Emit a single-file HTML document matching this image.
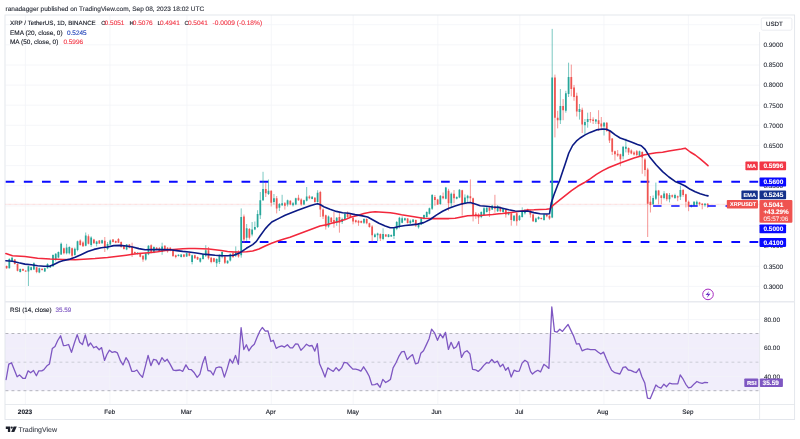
<!DOCTYPE html>
<html><head><meta charset="utf-8"><title>XRP / TetherUS chart</title>
<style>html,body{margin:0;padding:0;background:#fff;}body{width:800px;height:439px;overflow:hidden;font-family:"Liberation Sans",sans-serif;}svg{display:block;will-change:transform}text{font-family:"Liberation Sans",sans-serif;text-rendering:geometricPrecision;}</style></head><body>
<svg width="800" height="439" viewBox="0 0 800 439">
<rect x="0" y="0" width="800" height="439" fill="#ffffff"/>
<rect x="5" y="333.5" width="754.5" height="57.2" fill="#f1eefb"/>
<path d="M5.5 24.7H759.5 M5.5 44.8H759.5 M5.5 65.0H759.5 M5.5 85.1H759.5 M5.5 105.2H759.5 M5.5 125.3H759.5 M5.5 145.5H759.5 M5.5 165.6H759.5 M5.5 185.7H759.5 M5.5 205.9H759.5 M5.5 226.0H759.5 M5.5 246.1H759.5 M5.5 266.3H759.5 M5.5 286.4H759.5 M5.5 319.6H759.5 M5.5 348.1H759.5 M5.5 376.6H759.5 M25.4 15V404.5 M109.9 15V404.5 M186.9 15V404.5 M271.3 15V404.5 M353.2 15V404.5 M437.8 15V404.5 M519.8 15V404.5 M603.9 15V404.5 M688.4 15V404.5" stroke="#f2f4f8" stroke-width="0.8" fill="none"/>
<rect x="5" y="15" width="789.6" height="404.5" fill="none" stroke="#e1e4ea" stroke-width="0.9"/>
<path d="M5 301.7H794.6" stroke="#e8eaef" stroke-width="1.5" fill="none"/>
<path d="M5 404.5H794.6 M759.6 32V419.5" stroke="#e1e4ea" stroke-width="0.8" fill="none"/>
<path d="M5.5 204.3H759.5" stroke="#f6a9a8" stroke-width="0.6" fill="none" stroke-dasharray="0.7 0.5"/>
<path d="M5.5 333.5H759.5 M5.5 390.7H759.5" stroke="#8f929b" stroke-width="0.65" stroke-dasharray="2.9 3.1" fill="none"/>
<path d="M5.5 362.2H759.5" stroke="#b9bbc4" stroke-width="0.65" stroke-dasharray="2.9 3.1" fill="none"/>
<path d="M5.7 181.8H759.5" stroke="#0a0aff" stroke-width="2" stroke-dasharray="8.7 9.44" fill="none"/>
<path d="M241.6 242.1H759.5" stroke="#0a0aff" stroke-width="2" stroke-dasharray="8.7 9.44" stroke-dashoffset="0" fill="none"/>
<path d="M9.33 258.2V268.5M12.06 257.0V262.0M20.24 268.5V272.5M28.43 265.7V286.0M31.16 266.8V270.5M33.88 262.3V270.0M39.34 267.6V273.2M44.80 267.7V271.9M47.52 263.2V268.7M50.25 265.2V268.0M52.98 254.4V267.0M55.71 253.2V261.3M58.44 251.5V258.2M61.16 242.5V255.0M66.62 243.8V254.4M69.35 246.3V254.4M74.80 247.5V255.7M77.53 240.6V251.3M85.72 232.5V246.3M91.17 236.3V246.9M96.63 240.8V246.4M102.08 239.7V243.8M107.54 242.0V250.2M110.27 239.5V245.2M126.64 244.0V250.2M137.55 252.2V254.5M145.73 252.7V260.6M148.46 245.2V255.2M153.92 246.4V253.3M162.10 242.7V254.8M178.47 254.3V256.5M181.20 254.1V257.5M186.65 252.7V257.0M192.11 254.6V264.4M200.29 257.7V262.7M203.02 253.3V259.6M205.75 245.2V257.0M216.66 258.3V267.0M219.39 254.3V264.0M222.12 251.4V258.3M227.57 260.3V263.8M230.30 253.3V261.5M235.76 246.4V257.0M241.21 208.4V257.7M246.67 224.0V240.8M252.12 222.0V236.4M254.85 221.5V230.2M257.58 210.2V228.0M260.31 192.0V219.0M263.04 171.8V201.0M268.49 179.5V195.0M273.95 194.0V204.6M279.40 203.0V211.0M282.13 194.8V206.0M287.59 199.6V206.5M293.04 202.0V206.5M295.77 197.7V205.2M303.96 199.7V205.1M306.68 187.0V201.5M312.14 196.0V199.3M317.60 190.2V202.7M328.51 215.5V227.7M336.69 217.0V225.8M342.15 217.7V224.0M344.88 212.7V220.2M363.97 218.3V224.0M374.88 233.4V237.7M377.61 232.7V241.0M383.07 228.3V240.2M388.52 234.0V237.4M391.25 234.4V237.0M393.98 227.7V239.0M396.71 221.0V230.2M399.44 216.8V228.3M402.16 216.4V223.3M404.89 217.7V220.8M410.35 219.5V224.5M413.08 219.2V222.7M418.53 223.2V228.6M421.26 217.6V225.1M423.99 214.5V219.5M426.72 211.3V217.6M429.44 207.6V214.5M432.17 194.0V210.0M440.36 195.0V204.8M445.81 186.9V199.4M451.27 192.5V207.0M456.72 196.3V199.4M459.45 189.0V198.2M464.91 194.4V203.8M467.64 194.8V202.0M481.28 211.3V218.2M484.00 207.0V215.7M486.73 207.0V212.6M492.19 204.8V210.0M497.64 205.0V212.0M503.10 208.0V212.6M508.56 211.6V215.3M514.01 215.0V221.4M519.47 215.0V221.0M522.20 207.3V217.6M524.92 209.0V214.5M535.84 217.6V222.6M538.56 216.3V219.8M544.02 213.8V220.7M552.20 28.9V218.2M560.39 89.0V124.0M565.84 90.8V112.7M568.57 62.7V97.0M579.48 104.0V119.6M584.94 119.0V134.3M587.67 112.7V127.7M595.85 119.0V124.0M604.04 122.0V135.5M623.13 146.2V159.3M625.86 138.6V152.4M639.50 150.6V156.2M653.14 195.5V205.0M655.87 182.6V200.0M664.05 191.1V199.3M669.51 193.0V202.4M674.96 193.7V199.0M680.42 185.7V200.0M691.33 204.6V207.6M694.06 201.2V206.2M696.79 200.5V206.2M704.97 203.0V206.8" stroke="#26a69a" stroke-width="0.9" stroke-opacity="0.68" fill="none"/>
<path d="M6.60 265.5V268.8M14.79 259.0V264.5M17.52 263.5V271.4M22.97 268.5V271.0M25.70 270.0V272.0M36.61 266.8V273.2M42.07 268.3V270.6M63.89 247.5V254.4M72.08 247.5V259.5M80.26 239.4V245.7M82.99 241.3V246.9M88.44 234.4V244.4M93.90 238.8V243.8M99.36 240.0V244.0M104.81 237.0V252.0M113.00 239.0V242.5M115.72 240.5V243.2M118.45 238.0V243.0M121.18 241.4V247.7M123.91 245.2V249.6M129.36 244.0V248.3M132.09 242.7V257.0M134.82 251.5V253.8M140.28 252.8V257.3M143.00 255.2V261.8M151.19 244.3V253.3M156.64 247.0V250.2M159.37 247.0V252.0M164.83 245.2V250.8M167.56 247.0V252.7M170.28 247.2V251.3M173.01 250.2V257.0M175.74 254.6V258.3M183.92 254.1V257.3M189.38 252.8V256.3M194.84 254.7V258.8M197.56 256.5V260.0M208.48 247.0V259.6M211.20 257.0V263.3M213.93 257.8V262.3M224.84 255.8V264.0M233.03 251.0V258.0M238.48 250.2V257.7M243.94 214.5V242.7M249.40 228.0V239.5M265.76 182.7V197.0M271.22 190.3V206.5M276.68 196.0V213.4M284.86 202.0V209.6M290.32 200.2V205.2M298.50 194.8V200.8M301.23 198.3V205.8M309.41 195.2V199.3M314.87 197.0V202.7M320.32 190.8V217.0M323.05 208.4V219.0M325.78 214.6V229.6M331.24 217.0V223.3M333.96 212.0V227.7M339.42 212.7V232.7M347.60 211.4V219.0M350.33 213.3V217.7M353.06 217.0V224.3M355.79 219.6V223.3M358.52 220.2V225.8M361.24 220.5V223.3M366.70 218.3V224.3M369.43 222.7V227.7M372.16 225.2V241.5M380.34 233.4V241.0M385.80 234.0V237.0M407.62 218.0V223.5M415.80 219.5V227.0M434.90 195.0V205.7M437.63 198.8V205.0M443.08 192.5V199.4M448.54 188.8V210.7M454.00 190.0V203.2M462.18 189.8V215.7M470.36 179.4V203.0M473.09 197.6V221.4M475.82 212.0V218.9M478.55 213.2V224.0M489.46 207.0V217.0M494.92 194.8V212.6M500.37 206.6V212.3M505.83 208.6V217.6M511.28 212.0V225.7M516.74 212.3V225.7M527.65 208.6V212.0M530.38 210.0V217.6M533.11 213.8V222.0M541.29 217.5V219.5M546.75 214.0V217.3M549.48 215.0V219.8M554.93 74.6V137.4M557.66 110.8V128.4M563.12 99.0V120.2M571.30 64.6V96.4M574.03 85.0V100.8M576.76 92.7V116.5M582.21 107.7V133.0M590.40 112.0V122.7M593.12 117.3V124.0M598.58 110.2V131.0M601.31 117.0V130.3M606.76 122.0V131.8M609.49 130.5V143.0M612.22 138.0V155.0M614.95 150.6V160.6M617.68 150.0V156.8M620.40 153.7V166.2M628.59 147.4V155.0M631.32 149.3V154.3M634.04 151.2V155.6M636.77 150.0V156.2M642.23 151.3V173.8M644.96 158.2V176.3M647.68 167.8V237.0M650.41 196.0V212.5M658.60 189.9V204.3M661.32 194.9V204.3M666.78 193.0V201.2M672.24 194.5V197.8M677.69 195.5V201.2M683.15 189.0V196.8M685.88 193.7V207.4M688.60 200.5V211.2M699.52 201.8V205.6M702.24 203.0V209.3M707.70 203.0V208.0" stroke="#ef5350" stroke-width="0.9" stroke-opacity="0.68" fill="none"/>
<path d="M8.46 259.0h1.75V268.2h-1.75zM11.18 257.8h1.75V261.3h-1.75zM19.37 269.0h1.75V272.0h-1.75zM27.55 266.3h1.75V271.4h-1.75zM30.28 267.3h1.75V270.0h-1.75zM33.01 263.2h1.75V269.5h-1.75zM38.47 268.2h1.75V272.6h-1.75zM43.92 268.2h1.75V271.4h-1.75zM46.65 264.0h1.75V268.2h-1.75zM49.38 265.7h1.75V267.6h-1.75zM52.11 255.0h1.75V266.3h-1.75zM54.83 253.8h1.75V260.0h-1.75zM57.56 252.0h1.75V257.6h-1.75zM60.29 243.8h1.75V254.4h-1.75zM65.75 247.5h1.75V253.2h-1.75zM68.47 247.0h1.75V253.2h-1.75zM73.93 248.8h1.75V255.0h-1.75zM76.66 241.3h1.75V250.0h-1.75zM84.84 235.6h1.75V245.7h-1.75zM90.30 237.5h1.75V245.0h-1.75zM95.75 241.4h1.75V243.9h-1.75zM101.21 240.2h1.75V243.3h-1.75zM106.67 244.0h1.75V249.0h-1.75zM109.39 240.5h1.75V244.5h-1.75zM125.76 244.5h1.75V249.6h-1.75zM136.67 252.7h1.75V254.0h-1.75zM144.86 253.3h1.75V259.6h-1.75zM147.59 245.8h1.75V254.3h-1.75zM153.04 247.0h1.75V252.7h-1.75zM161.22 246.4h1.75V252.0h-1.75zM177.59 254.8h1.75V256.0h-1.75zM180.32 254.6h1.75V257.0h-1.75zM185.78 253.3h1.75V256.5h-1.75zM191.23 255.2h1.75V262.0h-1.75zM199.42 258.3h1.75V261.8h-1.75zM202.15 254.0h1.75V259.0h-1.75zM204.87 250.2h1.75V255.8h-1.75zM215.78 259.0h1.75V263.3h-1.75zM218.51 255.2h1.75V262.0h-1.75zM221.24 252.0h1.75V256.5h-1.75zM226.70 260.8h1.75V263.3h-1.75zM229.43 254.3h1.75V260.6h-1.75zM234.88 251.4h1.75V255.8h-1.75zM240.34 217.0h1.75V255.2h-1.75zM245.79 228.3h1.75V237.7h-1.75zM251.25 229.5h1.75V234.5h-1.75zM253.98 227.0h1.75V229.5h-1.75zM256.71 214.0h1.75V227.0h-1.75zM259.43 200.2h1.75V215.2h-1.75zM262.16 189.0h1.75V200.2h-1.75zM267.62 190.8h1.75V194.0h-1.75zM273.07 198.3h1.75V202.0h-1.75zM278.53 204.0h1.75V207.7h-1.75zM281.26 203.3h1.75V205.2h-1.75zM286.71 200.2h1.75V204.6h-1.75zM292.17 203.3h1.75V205.2h-1.75zM294.90 198.3h1.75V204.6h-1.75zM303.08 200.2h1.75V204.6h-1.75zM305.81 196.4h1.75V200.8h-1.75zM311.26 196.8h1.75V199.0h-1.75zM316.72 192.7h1.75V202.0h-1.75zM327.63 216.4h1.75V226.5h-1.75zM335.82 217.7h1.75V222.7h-1.75zM341.27 219.0h1.75V222.0h-1.75zM344.00 214.0h1.75V219.6h-1.75zM363.10 219.0h1.75V222.7h-1.75zM374.01 234.4h1.75V237.0h-1.75zM376.74 233.4h1.75V235.2h-1.75zM382.19 234.0h1.75V239.0h-1.75zM387.65 234.6h1.75V236.9h-1.75zM390.38 234.9h1.75V236.5h-1.75zM393.11 228.3h1.75V235.9h-1.75zM395.83 222.0h1.75V229.0h-1.75zM398.56 217.7h1.75V226.5h-1.75zM401.29 218.3h1.75V222.7h-1.75zM404.02 218.3h1.75V220.2h-1.75zM409.47 220.7h1.75V223.2h-1.75zM412.20 219.6h1.75V222.0h-1.75zM417.66 224.5h1.75V227.3h-1.75zM420.38 218.2h1.75V224.5h-1.75zM423.11 215.0h1.75V218.9h-1.75zM425.84 212.0h1.75V217.0h-1.75zM428.57 208.2h1.75V213.8h-1.75zM431.30 195.0h1.75V208.8h-1.75zM439.48 195.7h1.75V204.0h-1.75zM444.94 187.5h1.75V198.8h-1.75zM450.39 193.8h1.75V203.2h-1.75zM455.85 197.0h1.75V198.8h-1.75zM458.58 189.8h1.75V197.6h-1.75zM464.03 197.6h1.75V203.2h-1.75zM466.76 195.7h1.75V198.2h-1.75zM480.40 212.0h1.75V217.0h-1.75zM483.13 208.2h1.75V215.0h-1.75zM485.86 207.8h1.75V212.0h-1.75zM491.31 205.7h1.75V209.5h-1.75zM496.77 206.3h1.75V211.3h-1.75zM502.23 208.7h1.75V212.0h-1.75zM507.68 212.3h1.75V214.5h-1.75zM513.14 215.7h1.75V220.7h-1.75zM518.59 215.7h1.75V220.0h-1.75zM521.32 210.7h1.75V217.0h-1.75zM524.05 210.0h1.75V213.2h-1.75zM534.96 218.6h1.75V222.0h-1.75zM537.69 217.0h1.75V219.0h-1.75zM543.15 214.5h1.75V220.0h-1.75zM551.33 77.5h1.75V217.6h-1.75zM559.51 106.0h1.75V120.2h-1.75zM564.97 93.3h1.75V110.8h-1.75zM567.70 77.0h1.75V94.0h-1.75zM578.61 109.0h1.75V112.0h-1.75zM584.07 122.0h1.75V125.2h-1.75zM586.79 119.0h1.75V122.0h-1.75zM594.98 119.6h1.75V121.5h-1.75zM603.16 122.7h1.75V126.5h-1.75zM622.26 146.8h1.75V156.2h-1.75zM624.99 146.8h1.75V148.7h-1.75zM638.63 151.2h1.75V155.7h-1.75zM652.27 198.0h1.75V204.3h-1.75zM654.99 190.5h1.75V198.7h-1.75zM663.18 193.6h1.75V198.0h-1.75zM668.63 195.0h1.75V199.3h-1.75zM674.09 195.0h1.75V198.0h-1.75zM679.55 190.0h1.75V196.8h-1.75zM690.46 205.3h1.75V206.8h-1.75zM693.19 201.8h1.75V205.5h-1.75zM695.91 201.8h1.75V204.5h-1.75zM704.10 203.7h1.75V205.3h-1.75z" fill="#26a69a"/>
<path d="M5.73 266.1h1.75V268.2h-1.75zM13.91 259.4h1.75V264.0h-1.75zM16.64 264.0h1.75V270.7h-1.75zM22.10 269.0h1.75V270.7h-1.75zM24.82 270.7h1.75V271.6h-1.75zM35.74 267.3h1.75V272.0h-1.75zM41.19 268.8h1.75V270.1h-1.75zM63.02 248.2h1.75V253.2h-1.75zM71.20 248.2h1.75V255.7h-1.75zM79.39 240.6h1.75V245.0h-1.75zM82.11 242.5h1.75V246.3h-1.75zM87.57 236.3h1.75V243.8h-1.75zM93.03 239.4h1.75V243.2h-1.75zM98.48 240.5h1.75V243.6h-1.75zM103.94 240.8h1.75V247.0h-1.75zM112.12 239.5h1.75V242.0h-1.75zM114.85 241.0h1.75V242.7h-1.75zM117.58 239.0h1.75V242.7h-1.75zM120.31 242.0h1.75V247.0h-1.75zM123.03 245.8h1.75V249.0h-1.75zM128.49 244.5h1.75V247.7h-1.75zM131.22 246.4h1.75V254.6h-1.75zM133.94 252.0h1.75V253.3h-1.75zM139.40 253.3h1.75V256.8h-1.75zM142.13 255.8h1.75V259.6h-1.75zM150.31 245.2h1.75V252.7h-1.75zM155.77 247.7h1.75V249.6h-1.75zM158.50 248.3h1.75V251.4h-1.75zM163.95 245.8h1.75V250.2h-1.75zM166.68 247.7h1.75V251.4h-1.75zM169.41 247.7h1.75V250.8h-1.75zM172.14 250.8h1.75V256.0h-1.75zM174.87 255.2h1.75V257.0h-1.75zM183.05 254.6h1.75V256.8h-1.75zM188.50 253.3h1.75V255.8h-1.75zM193.96 255.2h1.75V258.3h-1.75zM196.69 257.0h1.75V259.6h-1.75zM207.60 250.2h1.75V258.3h-1.75zM210.33 257.7h1.75V262.0h-1.75zM213.06 258.3h1.75V261.8h-1.75zM223.97 256.5h1.75V262.7h-1.75zM232.15 253.3h1.75V257.0h-1.75zM237.61 252.0h1.75V256.5h-1.75zM243.06 216.5h1.75V239.5h-1.75zM248.52 229.0h1.75V237.7h-1.75zM264.89 189.0h1.75V193.3h-1.75zM270.35 190.8h1.75V202.7h-1.75zM275.80 198.3h1.75V208.4h-1.75zM283.99 203.3h1.75V205.8h-1.75zM289.44 200.8h1.75V204.6h-1.75zM297.62 197.7h1.75V200.2h-1.75zM300.35 199.6h1.75V204.6h-1.75zM308.54 196.4h1.75V198.3h-1.75zM313.99 197.7h1.75V202.0h-1.75zM319.45 192.0h1.75V209.6h-1.75zM322.18 209.5h1.75V216.5h-1.75zM324.91 215.2h1.75V226.5h-1.75zM330.36 217.7h1.75V222.0h-1.75zM333.09 220.0h1.75V223.5h-1.75zM338.55 217.0h1.75V222.7h-1.75zM346.73 214.0h1.75V217.0h-1.75zM349.46 214.3h1.75V217.0h-1.75zM352.19 217.7h1.75V221.5h-1.75zM354.91 220.2h1.75V222.0h-1.75zM357.64 220.8h1.75V222.7h-1.75zM360.37 221.0h1.75V222.7h-1.75zM365.82 219.0h1.75V223.3h-1.75zM368.55 223.3h1.75V227.0h-1.75zM371.28 226.5h1.75V235.2h-1.75zM379.47 234.0h1.75V238.4h-1.75zM384.92 234.6h1.75V236.5h-1.75zM406.75 218.4h1.75V223.0h-1.75zM414.93 220.1h1.75V225.4h-1.75zM434.03 197.0h1.75V200.0h-1.75zM436.75 199.4h1.75V204.4h-1.75zM442.21 196.3h1.75V198.2h-1.75zM447.67 190.7h1.75V203.2h-1.75zM453.12 193.8h1.75V198.2h-1.75zM461.31 190.3h1.75V205.0h-1.75zM469.49 196.3h1.75V198.2h-1.75zM472.22 198.2h1.75V215.0h-1.75zM474.95 213.8h1.75V215.7h-1.75zM477.67 214.5h1.75V217.6h-1.75zM488.59 207.8h1.75V210.7h-1.75zM494.04 206.3h1.75V208.8h-1.75zM499.50 207.4h1.75V211.3h-1.75zM504.95 209.4h1.75V214.5h-1.75zM510.41 213.2h1.75V220.0h-1.75zM515.87 213.2h1.75V221.3h-1.75zM526.78 209.0h1.75V211.3h-1.75zM529.51 210.7h1.75V214.5h-1.75zM532.23 214.5h1.75V221.3h-1.75zM540.42 218.0h1.75V219.0h-1.75zM545.87 214.8h1.75V216.3h-1.75zM548.60 215.7h1.75V218.6h-1.75zM554.06 77.5h1.75V117.7h-1.75zM556.79 117.7h1.75V120.2h-1.75zM562.24 106.0h1.75V110.2h-1.75zM570.43 77.0h1.75V89.0h-1.75zM573.15 87.6h1.75V97.0h-1.75zM575.88 95.8h1.75V111.5h-1.75zM581.34 109.8h1.75V124.6h-1.75zM589.52 119.0h1.75V120.2h-1.75zM592.25 119.6h1.75V121.0h-1.75zM597.71 120.2h1.75V124.0h-1.75zM600.43 123.4h1.75V126.5h-1.75zM605.89 122.7h1.75V131.0h-1.75zM608.62 131.0h1.75V140.5h-1.75zM611.35 138.6h1.75V151.8h-1.75zM614.07 151.2h1.75V154.3h-1.75zM616.80 153.7h1.75V155.6h-1.75zM619.53 154.3h1.75V159.3h-1.75zM627.71 148.0h1.75V152.4h-1.75zM630.44 150.5h1.75V153.4h-1.75zM633.17 152.4h1.75V154.6h-1.75zM635.90 151.2h1.75V155.0h-1.75zM641.35 152.0h1.75V157.5h-1.75zM644.08 159.4h1.75V170.0h-1.75zM646.81 169.5h1.75V203.7h-1.75zM649.54 201.8h1.75V205.0h-1.75zM657.72 190.5h1.75V195.5h-1.75zM660.45 195.5h1.75V198.0h-1.75zM665.91 193.6h1.75V199.3h-1.75zM671.36 195.3h1.75V196.8h-1.75zM676.82 196.2h1.75V197.4h-1.75zM682.27 190.0h1.75V195.0h-1.75zM685.00 194.3h1.75V201.8h-1.75zM687.73 201.8h1.75V206.8h-1.75zM698.64 202.4h1.75V204.0h-1.75zM701.37 203.7h1.75V205.0h-1.75zM706.83 203.7h1.75V205.0h-1.75z" fill="#ef5350"/>
<path d="M653.1 206H759.5" stroke="#0a0aff" stroke-width="1.6" stroke-dasharray="8.4 9.7" fill="none"/>
<path d="M5.9 253.6 L12.5 255.7 L25.0 256.6 L37.6 258.2 L50.1 259.1 L62.7 259.4 L75.2 259.7 L87.7 259.1 L95.0 258.6 L101.3 258.0 L107.5 257.5 L113.8 256.8 L120.0 256.0 L126.3 255.2 L132.6 254.3 L138.9 253.6 L145.1 253.0 L151.4 252.4 L157.7 251.7 L163.9 250.8 L170.2 249.8 L176.5 249.2 L182.7 248.7 L189.0 248.5 L195.0 248.5 L202.5 248.7 L208.8 249.0 L215.1 249.8 L221.3 250.6 L227.6 251.4 L233.9 252.0 L240.1 252.0 L246.4 251.8 L252.7 251.0 L258.9 249.0 L265.2 246.0 L271.5 243.3 L277.7 241.0 L284.0 239.0 L290.0 237.3 L300.0 233.5 L310.0 229.7 L320.0 226.0 L326.3 224.8 L332.5 223.0 L338.8 221.5 L345.1 219.6 L351.3 217.0 L357.6 215.6 L363.9 213.6 L370.1 212.3 L375.1 211.8 L382.7 212.3 L390.2 212.7 L395.2 213.6 L401.5 214.8 L407.7 215.8 L414.0 216.8 L420.0 217.7 L423.8 218.2 L430.1 218.6 L436.3 218.6 L442.6 218.6 L448.9 218.6 L455.1 218.2 L461.4 217.0 L467.7 215.7 L473.9 215.4 L480.2 215.4 L486.5 215.0 L492.7 214.5 L499.0 213.8 L502.5 213.6 L508.8 212.8 L515.1 212.0 L521.3 211.0 L527.6 210.0 L533.9 209.8 L540.1 209.4 L546.4 209.2 L550.2 208.8 L552.7 205.7 L558.9 200.7 L565.2 195.7 L571.5 190.6 L577.7 186.3 L584.0 182.8 L590.1 178.8 L596.4 174.4 L602.7 170.6 L608.9 167.5 L615.2 165.0 L621.5 162.5 L627.7 160.3 L634.0 158.0 L640.0 156.2 L643.8 155.0 L650.1 153.8 L656.3 152.8 L662.6 152.2 L668.9 151.0 L675.1 150.0 L681.4 149.0 L685.2 148.2 L690.2 152.0 L695.2 155.0 L700.2 158.8 L705.2 163.2 L708.0 165.7" stroke="#f2283c" stroke-width="1.55" fill="none" stroke-linejoin="round" stroke-linecap="round"/>
<path d="M5.9 260.7 L12.5 261.3 L18.8 262.8 L25.0 264.1 L31.3 264.8 L37.6 265.7 L43.9 266.3 L50.1 266.1 L53.9 264.5 L58.9 262.0 L62.7 260.7 L68.9 259.4 L75.2 257.3 L81.5 254.4 L87.7 251.6 L94.0 249.4 L101.3 247.7 L107.5 247.0 L113.8 245.6 L120.0 245.4 L126.3 246.0 L132.6 247.0 L138.9 248.6 L145.1 249.8 L151.4 249.6 L157.7 249.6 L163.9 249.6 L170.2 249.8 L176.5 250.6 L182.7 251.4 L189.0 252.0 L196.3 253.0 L202.5 254.0 L208.8 254.6 L215.1 255.2 L221.3 255.6 L227.6 255.8 L233.9 255.2 L240.1 252.7 L246.4 248.3 L252.7 244.6 L256.4 241.4 L260.2 235.8 L265.2 228.9 L268.9 224.8 L271.8 222.0 L278.9 218.4 L285.1 215.2 L291.4 212.7 L297.7 210.2 L303.9 208.0 L310.2 205.8 L315.2 204.3 L317.7 203.7 L320.5 204.8 L323.8 206.8 L330.0 209.3 L336.3 211.4 L342.6 212.7 L348.8 213.3 L355.1 214.6 L361.4 215.6 L367.6 217.0 L372.6 219.8 L378.9 223.3 L385.2 226.0 L390.2 227.7 L393.9 227.7 L398.9 226.5 L405.2 225.5 L411.4 224.9 L417.6 224.1 L423.8 222.6 L430.1 219.5 L436.3 215.1 L442.6 211.3 L448.9 208.2 L455.1 206.0 L461.4 204.0 L467.7 202.8 L470.2 202.6 L475.2 204.0 L480.2 205.7 L486.5 206.3 L492.7 207.0 L499.0 207.4 L502.5 208.2 L508.8 209.8 L515.1 211.0 L521.3 211.3 L527.6 211.0 L533.9 212.6 L540.1 213.8 L546.4 214.0 L549.5 213.8 L551.4 202.5 L553.9 195.0 L557.7 185.0 L559.5 181.0 L561.3 175.6 L565.1 164.3 L568.8 153.0 L572.6 145.5 L576.3 141.2 L580.1 138.0 L585.1 134.9 L590.1 132.4 L596.4 129.9 L602.7 129.0 L606.4 129.3 L610.2 131.0 L615.2 134.9 L620.2 138.0 L625.2 139.8 L631.3 141.9 L637.5 144.4 L641.3 145.7 L645.1 149.4 L650.1 157.6 L656.3 165.0 L662.6 171.6 L668.9 177.0 L675.1 181.4 L680.0 183.5 L685.2 186.0 L690.2 189.3 L695.2 191.8 L700.2 193.7 L705.2 195.2 L708.0 195.9" stroke="#0b1a85" stroke-width="1.6" fill="none" stroke-linejoin="round" stroke-linecap="round"/>
<path d="M6.1 379.5 L8.8 364.1 L11.5 362.8 L14.4 370.0 L17.1 376.8 L19.5 374.9 L22.8 378.3 L25.2 378.4 L28.1 370.8 L30.6 372.8 L33.5 370.5 L36.4 375.7 L38.8 370.8 L41.8 370.8 L43.9 369.7 L46.7 366.1 L49.4 364.1 L52.3 348.6 L55.0 346.5 L57.7 340.5 L60.6 335.8 L63.5 345.7 L65.9 345.3 L68.6 344.5 L71.5 352.4 L74.3 343.3 L77.2 334.6 L79.7 342.2 L82.5 344.5 L85.3 334.9 L88.2 346.0 L90.6 343.0 L93.8 347.8 L96.2 346.5 L99.2 349.7 L101.6 347.6 L104.5 360.4 L106.9 354.5 L109.5 350.2 L112.2 352.4 L114.9 351.6 L117.4 352.9 L120.5 360.9 L123.0 364.9 L126.0 357.7 L128.6 361.7 L131.8 371.3 L134.5 371.3 L136.9 370.0 L139.8 374.4 L142.5 377.3 L145.2 366.8 L148.1 355.3 L150.9 365.7 L153.6 359.3 L156.4 360.1 L158.9 364.6 L161.9 357.7 L164.8 361.4 L167.2 359.3 L170.1 364.1 L173.3 370.1 L176.0 370.5 L180.0 370.0 L182.8 371.3 L185.9 364.9 L188.7 369.3 L191.4 369.7 L194.3 372.8 L197.2 377.3 L199.9 374.1 L202.6 363.3 L205.2 356.6 L207.9 370.5 L210.6 371.2 L213.2 375.0 L216.1 367.8 L218.8 367.0 L221.5 367.4 L224.4 377.1 L227.2 368.6 L229.9 359.1 L232.6 363.1 L235.5 355.4 L238.4 364.3 L241.1 327.7 L243.8 349.5 L246.4 344.7 L248.8 350.8 L251.5 346.8 L254.3 344.2 L257.0 337.5 L259.8 331.2 L262.3 327.5 L265.3 331.2 L267.9 330.8 L270.9 341.5 L273.3 340.3 L276.2 348.4 L278.9 346.8 L281.8 345.8 L284.5 347.1 L287.4 344.7 L290.2 347.9 L292.6 347.9 L295.6 343.9 L298.0 344.2 L300.9 350.3 L303.8 347.4 L306.5 344.2 L309.2 346.0 L312.1 345.5 L314.8 351.1 L317.3 343.6 L319.5 363.4 L322.2 369.8 L325.0 377.1 L327.8 367.9 L330.5 369.8 L333.3 371.4 L336.1 367.6 L338.9 370.7 L341.6 367.9 L344.2 362.3 L346.9 362.8 L349.8 366.0 L352.8 369.1 L355.7 369.1 L358.4 369.8 L360.9 371.1 L363.6 366.8 L366.4 371.1 L369.2 376.3 L371.9 384.9 L374.8 384.6 L377.2 383.5 L380.1 387.3 L382.8 379.4 L385.7 382.5 L388.0 381.1 L390.4 379.5 L393.1 367.9 L396.0 362.8 L398.7 356.7 L401.6 351.9 L404.3 351.4 L407.2 359.6 L409.9 356.7 L412.6 354.6 L415.5 363.9 L418.2 362.8 L420.8 353.3 L423.5 350.8 L426.4 344.6 L429.1 338.7 L431.6 329.2 L434.7 333.2 L437.5 340.3 L440.3 334.0 L442.8 337.9 L445.5 332.4 L448.4 349.4 L451.1 342.3 L453.8 348.6 L456.4 346.7 L458.8 341.6 L461.5 357.4 L464.3 352.3 L467.0 350.7 L469.9 353.9 L472.6 369.4 L475.5 369.8 L478.2 371.4 L480.9 369.0 L483.8 365.4 L486.5 362.7 L488.9 363.1 L491.8 359.5 L494.6 362.7 L497.4 361.1 L500.2 366.7 L502.9 364.3 L505.6 370.3 L508.2 367.5 L511.2 377.0 L514.1 370.2 L516.8 371.4 L519.2 371.1 L522.1 363.1 L524.9 360.3 L527.7 362.2 L530.6 371.6 L532.5 374.0 L535.4 371.6 L537.8 370.3 L540.5 371.9 L543.8 364.4 L546.2 366.0 L548.9 368.4 L551.8 307.0 L554.5 331.4 L556.9 332.2 L559.8 329.3 L562.5 331.4 L565.4 327.7 L568.1 324.5 L570.9 330.4 L573.6 336.0 L576.5 344.1 L579.2 343.7 L582.1 350.8 L584.8 349.7 L587.5 348.9 L590.4 349.6 L595.2 349.7 L598.0 352.0 L600.8 354.0 L603.5 352.1 L606.3 358.8 L609.5 366.0 L611.6 370.3 L614.8 372.7 L619.9 374.0 L623.1 367.4 L625.5 366.8 L628.3 370.0 L630.7 370.3 L633.9 371.9 L636.3 372.7 L639.2 368.7 L641.9 376.7 L644.8 383.1 L647.5 398.2 L650.2 398.7 L653.1 391.8 L655.9 385.0 L658.3 387.0 L661.0 388.2 L663.9 384.2 L666.6 386.7 L669.5 383.1 L672.2 383.9 L677.8 383.9 L680.2 374.8 L682.6 378.3 L685.8 384.3 L688.5 387.8 L691.3 387.0 L694.2 383.9 L696.9 381.5 L699.3 382.7 L702.2 383.4 L704.9 382.3 L707.6 382.7" stroke="#7e57c2" stroke-width="1.3" fill="none" stroke-linejoin="round" stroke-linecap="round"/>
<text x="5.5" y="10.7" font-size="6.5" fill="#2a2e39" stroke="#2a2e39" stroke-width="0.12" font-weight="normal" text-anchor="start" >ranadagger published on TradingView.com, Sep 08, 2023 18:02 UTC</text>
<text x="10" y="25.1" font-size="6.2" fill="#131722" stroke="#131722" stroke-width="0.12" font-weight="normal" text-anchor="start" >XRP / TetherUS, 1D, BINANCE</text>
<text x="101.2" y="25.1" font-size="5.9" fill="#131722" stroke="#131722" stroke-width="0.12" font-weight="normal" text-anchor="start" >O</text>
<text x="104.6" y="25.1" font-size="6.5" fill="#f23645" stroke="#f23645" stroke-width="0.12" font-weight="normal" text-anchor="start" >0.5051</text>
<text x="129.4" y="25.1" font-size="5.9" fill="#131722" stroke="#131722" stroke-width="0.12" font-weight="normal" text-anchor="start" >H</text>
<text x="132.8" y="25.1" font-size="6.5" fill="#f23645" stroke="#f23645" stroke-width="0.12" font-weight="normal" text-anchor="start" >0.5076</text>
<text x="157.5" y="25.1" font-size="5.9" fill="#131722" stroke="#131722" stroke-width="0.12" font-weight="normal" text-anchor="start" >L</text>
<text x="159.9" y="25.1" font-size="6.5" fill="#f23645" stroke="#f23645" stroke-width="0.12" font-weight="normal" text-anchor="start" >0.4941</text>
<text x="184.5" y="25.1" font-size="5.9" fill="#131722" stroke="#131722" stroke-width="0.12" font-weight="normal" text-anchor="start" >C</text>
<text x="187.9" y="25.1" font-size="6.5" fill="#f23645" stroke="#f23645" stroke-width="0.12" font-weight="normal" text-anchor="start" >0.5041</text>
<text x="212.6" y="25.1" font-size="6.6" fill="#f23645" stroke="#f23645" stroke-width="0.12" font-weight="normal" text-anchor="start" >-0.0009 (-0.18%)</text>
<text x="10" y="34.7" font-size="6.45" fill="#131722" stroke="#131722" stroke-width="0.12" font-weight="normal" text-anchor="start" >EMA (20, close, 0)</text>
<text x="67" y="34.7" font-size="6.45" fill="#1e40b8" stroke="#1e40b8" stroke-width="0.12" font-weight="normal" text-anchor="start" >0.5245</text>
<text x="10" y="44" font-size="6.45" fill="#131722" stroke="#131722" stroke-width="0.12" font-weight="normal" text-anchor="start" >MA (50, close, 0)</text>
<text x="63.4" y="44" font-size="6.45" fill="#f23645" stroke="#f23645" stroke-width="0.12" font-weight="normal" text-anchor="start" >0.5996</text>
<text x="10" y="312" font-size="6.3" fill="#131722" stroke="#131722" stroke-width="0.12" font-weight="normal" text-anchor="start" >RSI (14, close)</text>
<text x="55.5" y="312" font-size="6.3" fill="#7e57c2" stroke="#7e57c2" stroke-width="0.12" font-weight="normal" text-anchor="start" >35.59</text>
<text x="763.4" y="47.1" font-size="6.45" fill="#131722" stroke="#131722" stroke-width="0.05" font-weight="normal" text-anchor="start" >0.9000</text>
<text x="763.4" y="67.2" font-size="6.45" fill="#131722" stroke="#131722" stroke-width="0.05" font-weight="normal" text-anchor="start" >0.8500</text>
<text x="763.4" y="87.4" font-size="6.45" fill="#131722" stroke="#131722" stroke-width="0.05" font-weight="normal" text-anchor="start" >0.8000</text>
<text x="763.4" y="107.5" font-size="6.45" fill="#131722" stroke="#131722" stroke-width="0.05" font-weight="normal" text-anchor="start" >0.7500</text>
<text x="763.4" y="127.6" font-size="6.45" fill="#131722" stroke="#131722" stroke-width="0.05" font-weight="normal" text-anchor="start" >0.7000</text>
<text x="763.4" y="147.8" font-size="6.45" fill="#131722" stroke="#131722" stroke-width="0.05" font-weight="normal" text-anchor="start" >0.6500</text>
<text x="763.4" y="188.0" font-size="6.45" fill="#131722" stroke="#131722" stroke-width="0.05" font-weight="normal" text-anchor="start" >0.5500</text>
<text x="763.4" y="248.4" font-size="6.45" fill="#131722" stroke="#131722" stroke-width="0.05" font-weight="normal" text-anchor="start" >0.4000</text>
<text x="763.4" y="268.6" font-size="6.45" fill="#131722" stroke="#131722" stroke-width="0.05" font-weight="normal" text-anchor="start" >0.3500</text>
<text x="763.4" y="288.7" font-size="6.45" fill="#131722" stroke="#131722" stroke-width="0.05" font-weight="normal" text-anchor="start" >0.3000</text>
<text x="763.9" y="321.90000000000003" font-size="6.45" fill="#131722" stroke="#131722" stroke-width="0.05" font-weight="normal" text-anchor="start" >80.00</text>
<text x="763.9" y="350.40000000000003" font-size="6.45" fill="#131722" stroke="#131722" stroke-width="0.05" font-weight="normal" text-anchor="start" >60.00</text>
<text x="763.9" y="378.90000000000003" font-size="6.45" fill="#131722" stroke="#131722" stroke-width="0.05" font-weight="normal" text-anchor="start" >40.00</text>
<rect x="761.3" y="18" width="30.6" height="12.2" rx="1.5" fill="#ffffff" stroke="#e6e8ee" stroke-width="0.8"/>
<text x="766" y="26.4" font-size="6.2" fill="#131722" stroke="#131722" stroke-width="0.12" font-weight="normal" text-anchor="start" >USDT</text>
<text x="25" y="414.2" font-size="6.5" fill="#131722" stroke="#131722" stroke-width="0.1" font-weight="bold" text-anchor="middle" >2023</text>
<text x="109.8" y="414.2" font-size="6.3" fill="#131722" stroke="#131722" stroke-width="0.12" font-weight="normal" text-anchor="middle" >Feb</text>
<text x="186.2" y="414.2" font-size="6.3" fill="#131722" stroke="#131722" stroke-width="0.12" font-weight="normal" text-anchor="middle" >Mar</text>
<text x="270.6" y="414.2" font-size="6.3" fill="#131722" stroke="#131722" stroke-width="0.12" font-weight="normal" text-anchor="middle" >Apr</text>
<text x="353" y="414.2" font-size="6.3" fill="#131722" stroke="#131722" stroke-width="0.12" font-weight="normal" text-anchor="middle" >May</text>
<text x="436.5" y="414.2" font-size="6.3" fill="#131722" stroke="#131722" stroke-width="0.12" font-weight="normal" text-anchor="middle" >Jun</text>
<text x="519.3" y="414.2" font-size="6.3" fill="#131722" stroke="#131722" stroke-width="0.12" font-weight="normal" text-anchor="middle" >Jul</text>
<text x="602.7" y="414.2" font-size="6.3" fill="#131722" stroke="#131722" stroke-width="0.12" font-weight="normal" text-anchor="middle" >Aug</text>
<text x="687.8" y="414.2" font-size="6.3" fill="#131722" stroke="#131722" stroke-width="0.12" font-weight="normal" text-anchor="middle" >Sep</text>
<rect x="745.4" y="161.6" width="12.4" height="8.6" rx="0.8" fill="#f23645"/>
<text x="756.0" y="168.1" font-size="5.6" fill="#ffffff" stroke="#ffffff" stroke-width="0.1" font-weight="bold" text-anchor="end" >MA</text>
<rect x="759.5" y="161.6" width="26.6" height="8.6" rx="0.8" fill="#f23645"/>
<text x="763.4" y="168.20000000000002" font-size="6.5" fill="#ffffff" stroke="#ffffff" stroke-width="0.1" font-weight="bold" text-anchor="start" >0.5996</text>
<rect x="759.5" y="177.6" width="26.6" height="8.9" rx="0.8" fill="#0a0aff"/>
<text x="763.4" y="184.35" font-size="6.5" fill="#ffffff" stroke="#ffffff" stroke-width="0.1" font-weight="bold" text-anchor="start" >0.5600</text>
<rect x="741.4" y="190.6" width="16.4" height="8.7" rx="0.8" fill="#14328c"/>
<text x="756.0" y="197.14999999999998" font-size="5.6" fill="#ffffff" stroke="#ffffff" stroke-width="0.1" font-weight="bold" text-anchor="end" >EMA</text>
<rect x="759.5" y="190.6" width="26.6" height="8.7" rx="0.8" fill="#14328c"/>
<text x="763.4" y="197.25" font-size="6.5" fill="#ffffff" stroke="#ffffff" stroke-width="0.1" font-weight="bold" text-anchor="start" >0.5245</text>
<rect x="726.8" y="199.9" width="31.2" height="8.6" rx="0.8" fill="#ef5350"/>
<text x="756.1" y="206.4" font-size="5.45" fill="#ffffff" stroke="#ffffff" stroke-width="0.1" font-weight="bold" text-anchor="end" >XRPUSDT</text>
<rect x="759.5" y="199.9" width="32.9" height="22.8" rx="1" fill="#ef5350"/>
<text x="763.4" y="206.7" font-size="6.5" fill="#ffffff" stroke="#ffffff" stroke-width="0.1" font-weight="bold" text-anchor="start" >0.5041</text>
<text x="763.4" y="213.9" font-size="6.4" fill="#ffffff" stroke="#ffffff" stroke-width="0.1" font-weight="bold" text-anchor="start" >+43.29%</text>
<text x="763.4" y="220.9" font-size="6.4" fill="#fde3e2" stroke="#fde3e2" stroke-width="0.12" font-weight="normal" text-anchor="start" >05:57:06</text>
<rect x="759.5" y="224.5" width="26.6" height="8.8" rx="0.8" fill="#0a0aff"/>
<text x="763.4" y="231.20000000000002" font-size="6.5" fill="#ffffff" stroke="#ffffff" stroke-width="0.1" font-weight="bold" text-anchor="start" >0.5000</text>
<rect x="759.5" y="238" width="26.6" height="8.9" rx="0.8" fill="#0a0aff"/>
<text x="763.4" y="244.75" font-size="6.5" fill="#ffffff" stroke="#ffffff" stroke-width="0.1" font-weight="bold" text-anchor="start" >0.4100</text>
<rect x="744.3" y="378.5" width="13.9" height="8.5" rx="0.8" fill="#7e57c2"/>
<text x="756.6" y="385" font-size="5.8" fill="#ffffff" stroke="#ffffff" stroke-width="0.1" font-weight="bold" text-anchor="end" >RSI</text>
<rect x="759.9" y="378.5" width="23" height="8.5" rx="0.8" fill="#7e57c2"/>
<text x="762.6" y="385.1" font-size="6.5" fill="#ffffff" stroke="#ffffff" stroke-width="0.1" font-weight="bold" text-anchor="start" >35.59</text>
<circle cx="708" cy="294.4" r="6.6" fill="#ffffff"/>
<circle cx="708" cy="294.4" r="5.3" fill="#ffffff" stroke="#a72bc0" stroke-width="1"/>
<path d="M709.3 290.9L705.6 295.1H708.1L706.8 297.9L710.5 293.7H707.9Z" fill="#6a2fc4"/>
<path d="M5.8 426.4H10.2V431.9H7.9V428.9H5.8Z" fill="#1e222d"/>
<circle cx="11.7" cy="427.6" r="1.15" fill="#1e222d"/>
<path d="M13.6 426.4H16.8L14.3 431.9H11.2Z" fill="#1e222d"/>
<text x="18.5" y="431.9" font-size="7.0" fill="#41454f" stroke="#41454f" stroke-width="0.12" font-weight="normal" text-anchor="start" >TradingView</text>
</svg></body></html>
